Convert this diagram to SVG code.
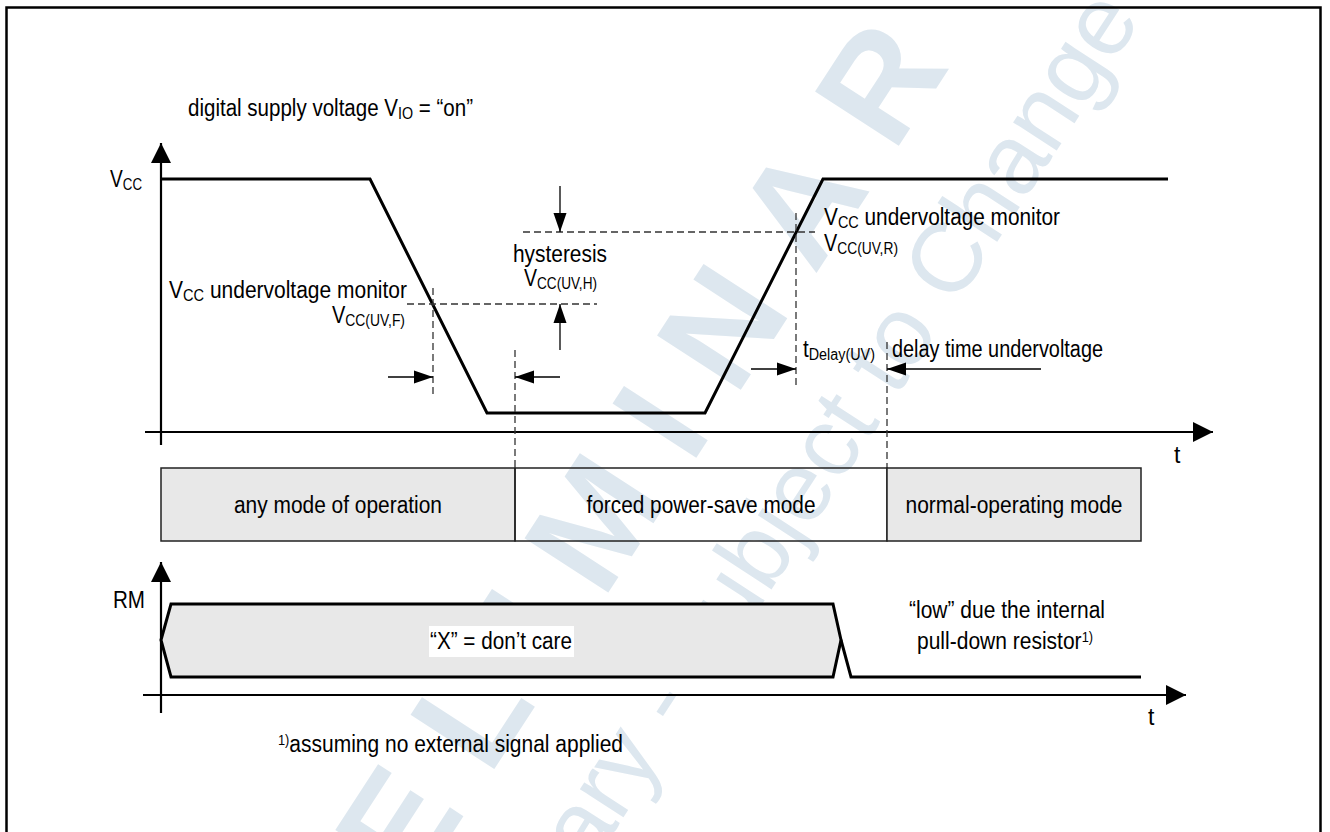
<svg xmlns="http://www.w3.org/2000/svg" width="1330" height="832" viewBox="0 0 1330 832">
<style>
.t{font-family:"Liberation Sans",Arial,sans-serif;font-size:23px;fill:#000}
.sub{font-size:16px}
.sup{font-size:14px}
.sig{fill:none;stroke:#000;stroke-width:3;stroke-linejoin:miter}
.ax{stroke:#000;stroke-width:2.2;fill:none}
.dash{stroke:#333;stroke-width:1.3;stroke-dasharray:7 4;fill:none}
.dim{stroke:#000;stroke-width:1.3;fill:none}
.box{stroke:#222;stroke-width:1.5}
.wm{font-family:"Liberation Sans",Arial,sans-serif;fill:#dde7ef}
.big{font-size:145px;font-weight:bold}
</style>
<defs>
<marker id="ah" markerUnits="userSpaceOnUse" markerWidth="20" markerHeight="20" refX="20" refY="10" orient="auto">
<path d="M0,0 L20,10 L0,20 z" fill="#000"/>
</marker>
<marker id="dh" markerUnits="userSpaceOnUse" markerWidth="19" markerHeight="14" refX="19" refY="7" orient="auto">
<path d="M0,0.5 L19,7 L0,13.5 z" fill="#000"/>
</marker>
</defs>
<rect x="0" y="0" width="1330" height="832" fill="#fff"/>
<g id="watermark">
<text class="wm big" transform="translate(922,110) rotate(-57)" text-anchor="middle">R</text>
<text class="wm big" transform="translate(843,232) rotate(-57)" text-anchor="middle">A</text>
<text class="wm big" transform="translate(764,354) rotate(-57)" text-anchor="middle">N</text>
<text class="wm big" transform="translate(702,449) rotate(-57)" text-anchor="middle">I</text>
<text class="wm big" transform="translate(636,550) rotate(-57)" text-anchor="middle">M</text>
<text class="wm big" transform="translate(570,652) rotate(-57)" text-anchor="middle">I</text>
<text class="wm big" transform="translate(513,740) rotate(-57)" text-anchor="middle">L</text>
<text class="wm big" transform="translate(440,852) rotate(-57)" text-anchor="middle">E</text>
<text class="wm" font-size="98" transform="translate(1142,19) rotate(-57)" text-anchor="end">Preliminary - subject to Change</text>
</g>
<rect x="6.5" y="7.5" width="1314" height="840" fill="none" stroke="#000" stroke-width="2.5"/>
<g id="vcc-plot">
<line class="ax" x1="161" y1="445" x2="161" y2="143" marker-end="url(#ah)"/>
<line class="ax" x1="145" y1="432" x2="1213" y2="432" marker-end="url(#ah)"/>
<polyline class="sig" points="161,179 370,179 487,413 705,413 823,179 1168,179"/>
</g>
<g id="connectors">
<line class="dash" x1="407" y1="304" x2="597" y2="304"/>
<line class="dash" x1="433" y1="288" x2="433" y2="396"/>
<line class="dash" x1="523" y1="232" x2="815" y2="232"/>
<line class="dash" x1="796" y1="213" x2="796" y2="385"/>
<line class="dash" x1="515" y1="350" x2="515" y2="468" stroke="#555"/>
<line class="dash" x1="887" y1="342" x2="887" y2="468" stroke="#555"/>
<line class="dim" x1="560" y1="186" x2="560" y2="232" marker-end="url(#dh)"/>
<line class="dim" x1="560" y1="350" x2="560" y2="304" marker-end="url(#dh)"/>
<line class="dim" x1="388" y1="377" x2="433" y2="377" marker-end="url(#dh)"/>
<line class="dim" x1="560" y1="377" x2="515" y2="377" marker-end="url(#dh)"/>
<line class="dim" x1="751" y1="369" x2="796" y2="369" marker-end="url(#dh)"/>
<line class="dim" x1="1041" y1="369" x2="887" y2="369" marker-end="url(#dh)"/>
</g>
<g id="labels">
<text class="t" x="188" y="116" textLength="285" lengthAdjust="spacingAndGlyphs">digital supply voltage V<tspan class="sub" dy="3">IO</tspan><tspan dy="-3"> = “on”</tspan></text>
<text class="t" x="110" y="187" textLength="32" lengthAdjust="spacingAndGlyphs">V<tspan class="sub" dy="3">CC</tspan></text>
<text class="t" x="513" y="262" textLength="94" lengthAdjust="spacingAndGlyphs">hysteresis</text>
<text class="t" x="524" y="286" textLength="73" lengthAdjust="spacingAndGlyphs">V<tspan class="sub" dy="3">CC(UV,H)</tspan></text>
<text class="t" x="169" y="298" textLength="238" lengthAdjust="spacingAndGlyphs">V<tspan class="sub" dy="3">CC</tspan><tspan dy="-3"> undervoltage monitor</tspan></text>
<text class="t" x="332" y="323" textLength="73" lengthAdjust="spacingAndGlyphs">V<tspan class="sub" dy="3">CC(UV,F)</tspan></text>
<text class="t" x="824" y="225" textLength="236" lengthAdjust="spacingAndGlyphs">V<tspan class="sub" dy="3">CC</tspan><tspan dy="-3"> undervoltage monitor</tspan></text>
<text class="t" x="824" y="251" textLength="74" lengthAdjust="spacingAndGlyphs">V<tspan class="sub" dy="3">CC(UV,R)</tspan></text>
<text class="t" x="803" y="357" textLength="72" lengthAdjust="spacingAndGlyphs">t<tspan class="sub" dy="3">Delay(UV)</tspan></text>
<text class="t" x="892" y="357" textLength="211" lengthAdjust="spacingAndGlyphs">delay time undervoltage</text>
<text class="t" x="1174" y="463">t</text>
</g>
<g id="mode-any">
<rect class="box" x="161" y="468" width="354" height="73" fill="#e8e8e8"/>
<text class="t" x="338" y="513" text-anchor="middle" textLength="208" lengthAdjust="spacingAndGlyphs">any mode of operation</text>
</g>
<g id="mode-forced">
<rect class="box" x="515" y="468" width="372" height="73" fill="#fff" fill-opacity="0"/>
<text class="t" x="701" y="513" text-anchor="middle" textLength="229" lengthAdjust="spacingAndGlyphs">forced power-save mode</text>
</g>
<g id="mode-normal">
<rect class="box" x="887" y="468" width="254" height="73" fill="#e8e8e8"/>
<text class="t" x="1014" y="513" text-anchor="middle" textLength="217" lengthAdjust="spacingAndGlyphs">normal-operating mode</text>
</g>
<g id="rm-plot">
<line class="ax" x1="161" y1="713" x2="161" y2="562" marker-end="url(#ah)"/>
<line class="ax" x1="143" y1="695" x2="1186" y2="695" marker-end="url(#ah)"/>
<polygon points="161,640 171,604 833,604 841,640 833,677 171,677" fill="#e8e8e8" stroke="#000" stroke-width="3"/>
<polyline class="sig" points="841,640 851,677 1141,677"/>
<rect x="429" y="626" width="145" height="31" fill="#fff"/>
<text class="t" x="430" y="649" textLength="142" lengthAdjust="spacingAndGlyphs">“X” = don’t care</text>
<text class="t" x="113" y="608" textLength="32" lengthAdjust="spacingAndGlyphs">RM</text>
<text class="t" x="909" y="618" textLength="196" lengthAdjust="spacingAndGlyphs">“low” due the internal</text>
<text class="t" x="917" y="649" textLength="176" lengthAdjust="spacingAndGlyphs">pull-down resistor<tspan class="sup" dy="-7">1)</tspan></text>
<text class="t" x="1148" y="725">t</text>
</g>
<g id="footnote">
<text class="t" x="278" y="752" textLength="345" lengthAdjust="spacingAndGlyphs"><tspan class="sup" dy="-7">1)</tspan><tspan dy="7">assuming no external signal applied</tspan></text>
</g>
</svg>
